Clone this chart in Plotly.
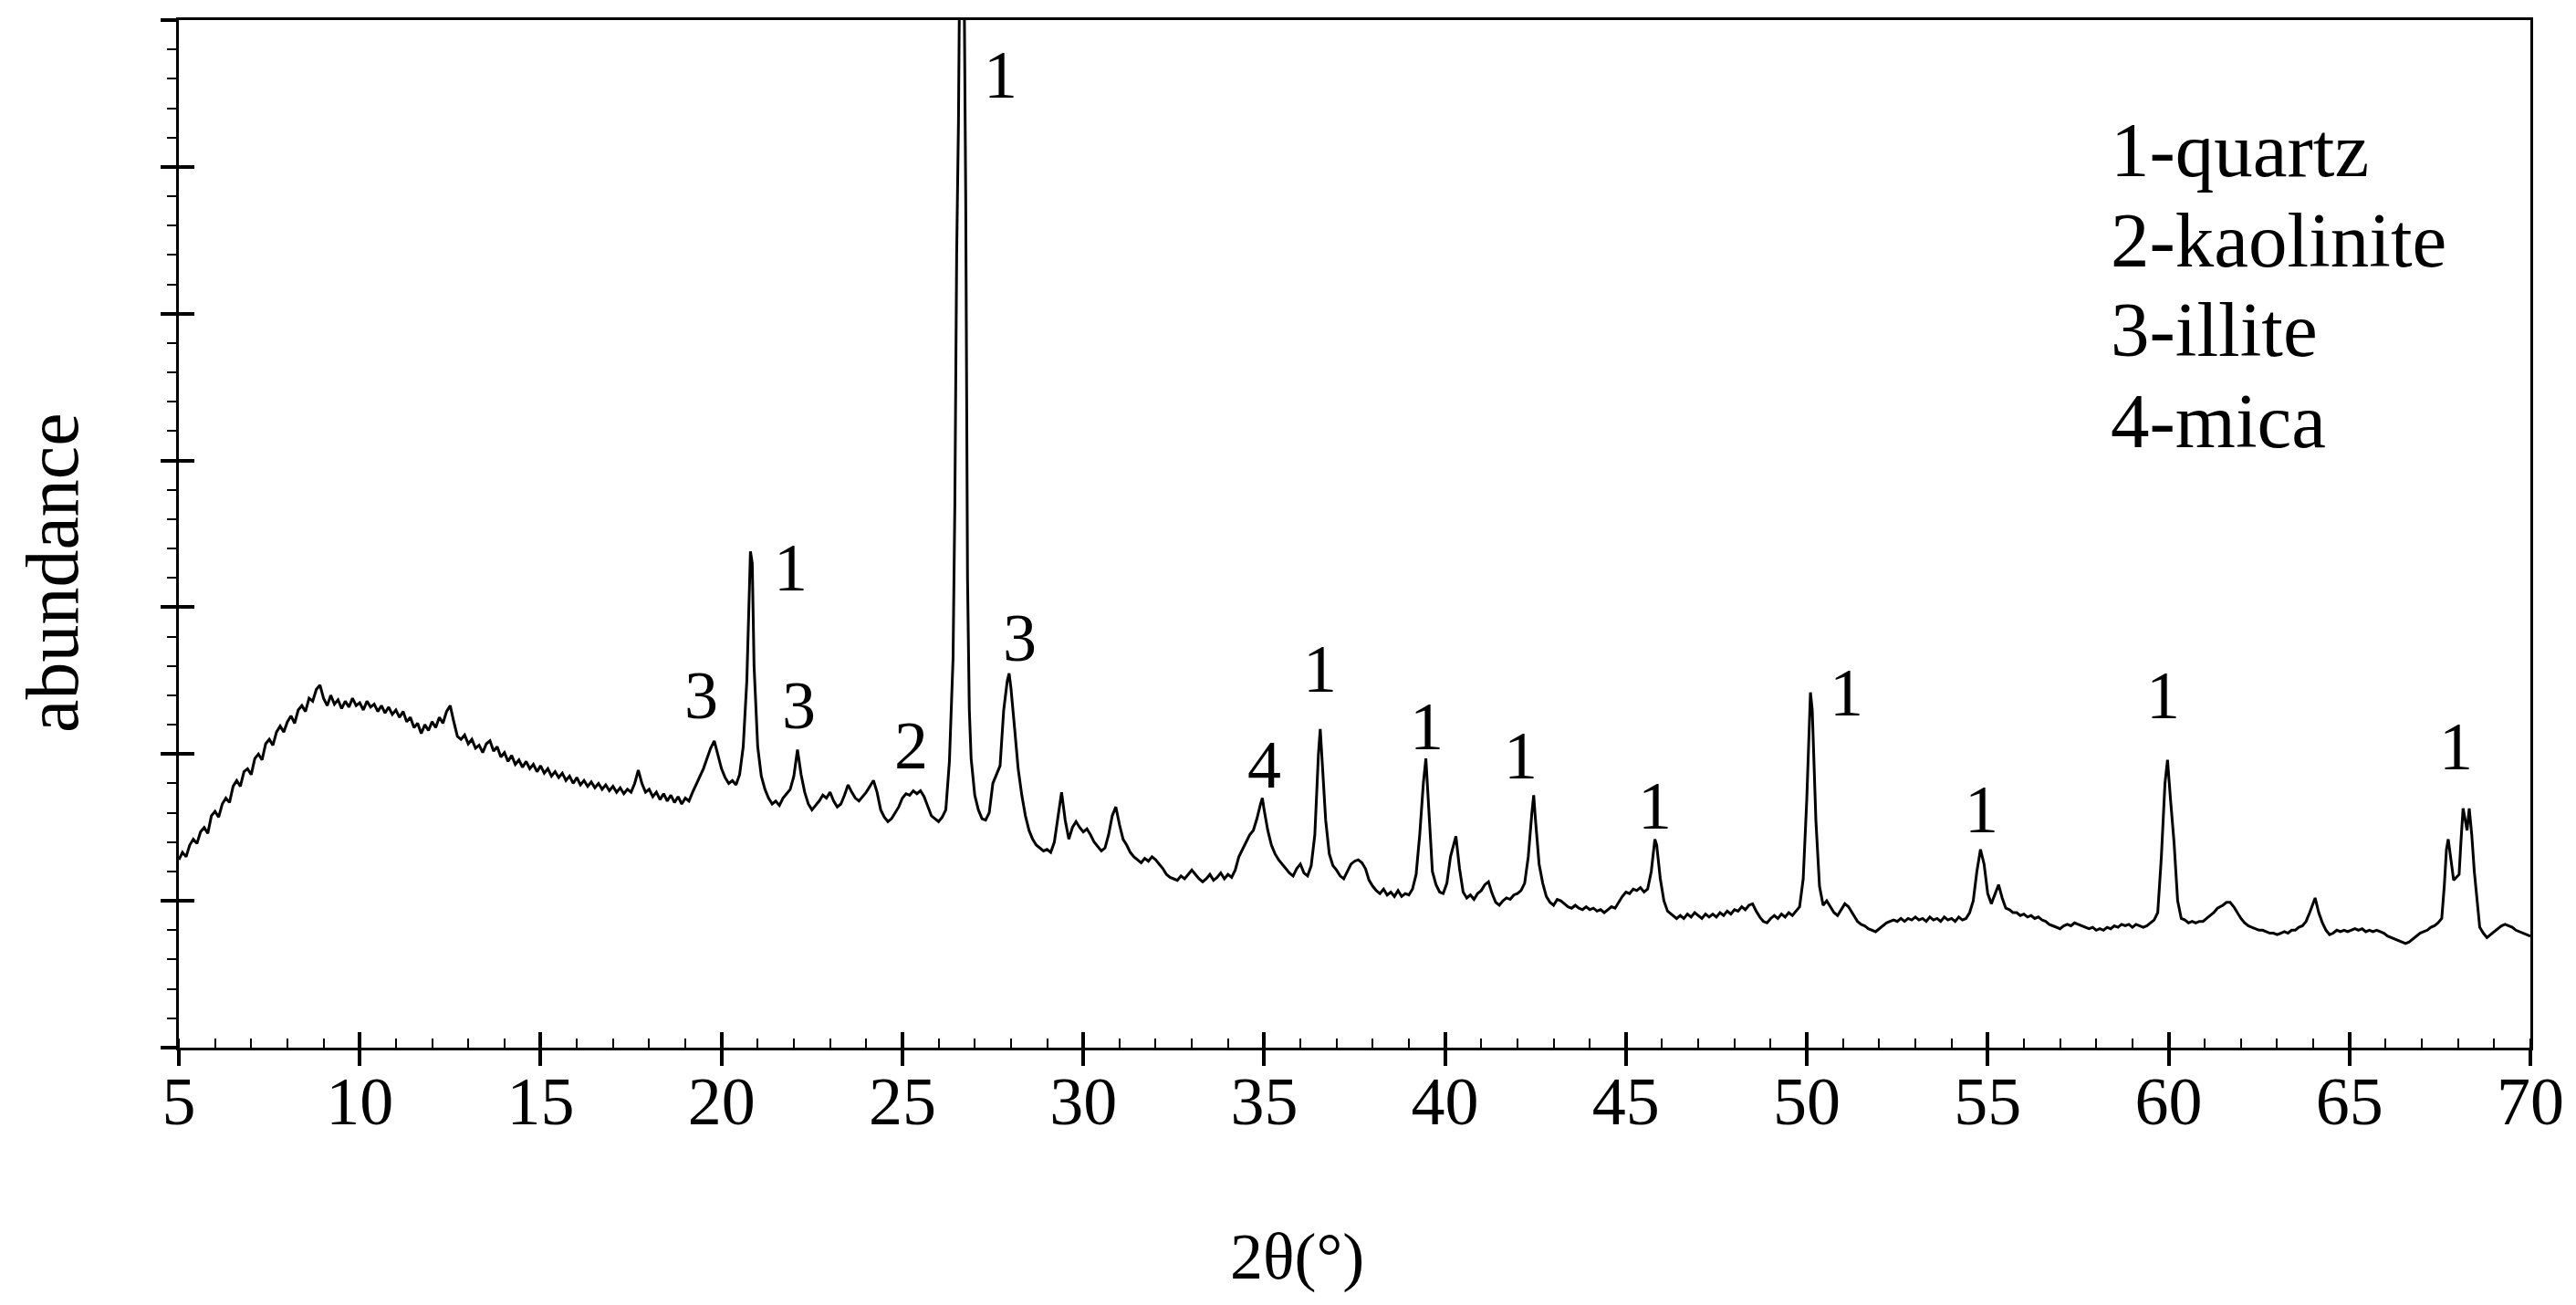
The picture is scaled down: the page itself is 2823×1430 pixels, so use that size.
from plotly import graph_objects as go

# XRD pattern (2theta in degrees, intensity in arbitrary units)
two_theta = [
    5.0, 5.1, 5.2, 5.3, 5.4, 5.5, 5.6, 5.7, 5.8, 5.9,
    6.0, 6.1, 6.2, 6.3, 6.4, 6.5, 6.6, 6.7, 6.8, 6.9,
    7.0, 7.1, 7.2, 7.3, 7.4, 7.5, 7.6, 7.7, 7.8, 7.9,
    8.0, 8.1, 8.2, 8.3, 8.4, 8.5, 8.6, 8.7, 8.8, 8.9,
    9.0, 9.1, 9.2, 9.3, 9.4, 9.5, 9.6, 9.7, 9.8, 9.9,
    10.0, 10.1, 10.2, 10.3, 10.4, 10.5, 10.6, 10.7, 10.8, 10.9,
    11.0, 11.1, 11.2, 11.3, 11.4, 11.5, 11.6, 11.7, 11.8, 11.9,
    12.0, 12.1, 12.2, 12.3, 12.4, 12.5, 12.6, 12.7, 12.8, 12.9,
    13.0, 13.1, 13.2, 13.3, 13.4, 13.5, 13.6, 13.7, 13.8, 13.9,
    14.0, 14.1, 14.2, 14.3, 14.4, 14.5, 14.6, 14.7, 14.8, 14.9,
    15.0, 15.1, 15.2, 15.3, 15.4, 15.5, 15.6, 15.7, 15.8, 15.9,
    16.0, 16.1, 16.2, 16.3, 16.4, 16.5, 16.6, 16.7, 16.8, 16.9,
    17.0, 17.1, 17.2, 17.3, 17.4, 17.5, 17.6, 17.7, 17.8, 17.9,
    18.0, 18.1, 18.2, 18.3, 18.4, 18.5, 18.6, 18.7, 18.8, 18.9,
    19.0, 19.1, 19.2, 19.3, 19.4, 19.5, 19.6, 19.7, 19.8, 19.9,
    20.0, 20.1, 20.2, 20.3, 20.4, 20.5, 20.6, 20.7, 20.8, 20.85, 20.9,
    21.0, 21.1, 21.2, 21.3, 21.4, 21.5, 21.6, 21.7, 21.8, 21.9,
    22.0, 22.1, 22.2, 22.3, 22.4, 22.5, 22.6, 22.7, 22.8, 22.9,
    23.0, 23.1, 23.2, 23.3, 23.4, 23.5, 23.6, 23.7, 23.8, 23.9,
    24.0, 24.1, 24.2, 24.3, 24.4, 24.5, 24.6, 24.7, 24.8, 24.9,
    25.0, 25.1, 25.2, 25.3, 25.4, 25.5, 25.6, 25.7, 25.8, 25.9,
    26.0, 26.1, 26.2, 26.3, 26.4, 26.45, 26.5, 26.55, 26.6, 26.65, 26.7, 26.75, 26.8, 26.85, 26.9,
    27.0, 27.1, 27.2, 27.3, 27.4, 27.5, 27.6, 27.7, 27.8, 27.9, 27.95,
    28.0, 28.1, 28.2, 28.3, 28.4, 28.5, 28.6, 28.7, 28.8, 28.9,
    29.0, 29.1, 29.2, 29.3, 29.4, 29.5, 29.6, 29.7, 29.8, 29.9,
    30.0, 30.1, 30.2, 30.3, 30.4, 30.5, 30.6, 30.7, 30.8, 30.9,
    31.0, 31.1, 31.2, 31.3, 31.4, 31.5, 31.6, 31.7, 31.8, 31.9,
    32.0, 32.1, 32.2, 32.3, 32.4, 32.5, 32.6, 32.7, 32.8, 32.9,
    33.0, 33.1, 33.2, 33.3, 33.4, 33.5, 33.6, 33.7, 33.8, 33.9,
    34.0, 34.1, 34.2, 34.3, 34.4, 34.5, 34.6, 34.7, 34.8, 34.9, 34.95,
    35.0, 35.1, 35.2, 35.3, 35.4, 35.5, 35.6, 35.7, 35.8, 35.9,
    36.0, 36.1, 36.2, 36.3, 36.4, 36.5, 36.55, 36.6, 36.7, 36.8, 36.9,
    37.0, 37.1, 37.2, 37.3, 37.4, 37.5, 37.6, 37.7, 37.8, 37.9,
    38.0, 38.1, 38.2, 38.3, 38.4, 38.5, 38.6, 38.7, 38.8, 38.9,
    39.0, 39.1, 39.2, 39.3, 39.4, 39.47, 39.55, 39.65, 39.75, 39.85, 39.95,
    40.05, 40.15, 40.3, 40.4, 40.5, 40.6, 40.7, 40.8, 40.9,
    41.0, 41.1, 41.2, 41.3, 41.4, 41.5, 41.6, 41.7, 41.8, 41.9,
    42.0, 42.1, 42.2, 42.3, 42.4, 42.45, 42.5, 42.6, 42.7, 42.8, 42.9,
    43.0, 43.1, 43.2, 43.3, 43.4, 43.5, 43.6, 43.7, 43.8, 43.9,
    44.0, 44.1, 44.2, 44.3, 44.4, 44.5, 44.6, 44.7, 44.8, 44.9,
    45.0, 45.1, 45.2, 45.3, 45.4, 45.5, 45.6, 45.7, 45.8, 45.85, 45.95,
    46.05, 46.15, 46.3, 46.4, 46.5, 46.6, 46.7, 46.8, 46.9,
    47.0, 47.1, 47.2, 47.3, 47.4, 47.5, 47.6, 47.7, 47.8, 47.9,
    48.0, 48.1, 48.2, 48.3, 48.4, 48.5, 48.6, 48.7, 48.8, 48.9,
    49.0, 49.1, 49.2, 49.3, 49.4, 49.5, 49.6, 49.7, 49.8, 49.9,
    50.0, 50.1, 50.15, 50.25, 50.35, 50.45, 50.55, 50.65, 50.75, 50.85, 50.95,
    51.05, 51.15, 51.3, 51.4, 51.5, 51.6, 51.7, 51.8, 51.9,
    52.0, 52.1, 52.2, 52.3, 52.4, 52.5, 52.6, 52.7, 52.8, 52.9,
    53.0, 53.1, 53.2, 53.3, 53.4, 53.5, 53.6, 53.7, 53.8, 53.9,
    54.0, 54.1, 54.2, 54.3, 54.4, 54.5, 54.6, 54.7, 54.8, 54.9,
    55.0, 55.1, 55.2, 55.3, 55.4, 55.5, 55.6, 55.7, 55.8, 55.9,
    56.0, 56.1, 56.2, 56.3, 56.4, 56.5, 56.6, 56.7, 56.8, 56.9,
    57.0, 57.1, 57.2, 57.3, 57.4, 57.5, 57.6, 57.7, 57.8, 57.9,
    58.0, 58.1, 58.2, 58.3, 58.4, 58.5, 58.6, 58.7, 58.8, 58.9,
    59.0, 59.1, 59.2, 59.3, 59.4, 59.5, 59.6, 59.7, 59.8, 59.9, 59.97,
    60.05, 60.15, 60.25, 60.35, 60.45, 60.55, 60.65, 60.75, 60.85, 60.95,
    61.05, 61.15, 61.25, 61.35, 61.5, 61.6, 61.7, 61.8, 61.9,
    62.0, 62.1, 62.2, 62.3, 62.4, 62.5, 62.6, 62.7, 62.8, 62.9,
    63.0, 63.1, 63.2, 63.3, 63.4, 63.5, 63.6, 63.7, 63.8, 63.9,
    64.0, 64.05, 64.15, 64.25, 64.35, 64.45, 64.55, 64.65, 64.75, 64.85, 64.95,
    65.05, 65.15, 65.25, 65.35, 65.45, 65.55, 65.65, 65.75, 65.85, 65.95,
    66.05, 66.15, 66.25, 66.35, 66.45, 66.55, 66.65, 66.75, 66.85, 66.95,
    67.05, 67.15, 67.25, 67.35, 67.45, 67.55, 67.62, 67.68, 67.73, 67.8, 67.88, 67.95,
    68.03, 68.08, 68.14, 68.2, 68.25, 68.31, 68.38, 68.45, 68.52, 68.6, 68.7, 68.8, 68.9,
    69.0, 69.1, 69.2, 69.3, 69.4, 69.5, 69.6, 69.7, 69.8, 69.9, 70.0,
]

intensity = [
    1.28, 1.33, 1.30, 1.38, 1.42, 1.39, 1.47, 1.50, 1.46, 1.58,
    1.61, 1.57, 1.66, 1.70, 1.67, 1.78, 1.82, 1.78, 1.88, 1.90,
    1.86, 1.97, 2.00, 1.96, 2.07, 2.10, 2.06, 2.15, 2.19, 2.15,
    2.22, 2.26, 2.21, 2.30, 2.33, 2.29, 2.38, 2.36, 2.44, 2.47,
    2.38, 2.33, 2.40, 2.34, 2.37, 2.31, 2.36, 2.32, 2.38, 2.33,
    2.35, 2.30, 2.36, 2.32, 2.34, 2.29, 2.33, 2.28, 2.32, 2.27,
    2.30, 2.25, 2.29, 2.22, 2.25, 2.18, 2.21, 2.14, 2.20, 2.16,
    2.22, 2.18, 2.25, 2.21, 2.29, 2.33, 2.22, 2.12, 2.10, 2.13,
    2.07, 2.10, 2.04, 2.06, 2.01, 2.07, 2.09, 2.02, 2.05, 1.98,
    2.01, 1.95, 1.99, 1.93, 1.96, 1.91, 1.95, 1.90, 1.93, 1.88,
    1.92, 1.87, 1.90, 1.85, 1.88, 1.84, 1.87, 1.82, 1.85, 1.80,
    1.84, 1.79, 1.82, 1.78, 1.81, 1.77, 1.80, 1.76, 1.79, 1.75,
    1.78, 1.74, 1.77, 1.73, 1.76, 1.74, 1.80, 1.89, 1.80, 1.74,
    1.76, 1.71, 1.74, 1.69, 1.73, 1.68, 1.72, 1.67, 1.71, 1.66,
    1.70, 1.68, 1.74, 1.79, 1.84, 1.90, 1.97, 2.04, 2.09, 2.00,
    1.90, 1.84, 1.80, 1.82, 1.79, 1.86, 2.05, 2.50, 3.38, 3.30, 2.60,
    2.05, 1.85, 1.76, 1.70, 1.66, 1.68, 1.65, 1.70, 1.73, 1.76,
    1.85, 2.03, 1.86, 1.74, 1.66, 1.62, 1.65, 1.68, 1.72, 1.70,
    1.74, 1.68, 1.64, 1.66, 1.72, 1.79, 1.74, 1.70, 1.68, 1.71,
    1.74, 1.78, 1.82, 1.74, 1.62, 1.57, 1.54, 1.56, 1.60, 1.64,
    1.70, 1.73, 1.72, 1.75, 1.73, 1.75, 1.71, 1.64, 1.58, 1.56,
    1.54, 1.57, 1.62, 1.95, 2.65, 3.70, 5.40, 6.30, 9.50, 9.50, 7.50, 5.80, 3.20, 2.30, 1.97,
    1.72, 1.62, 1.56, 1.55, 1.60, 1.80, 1.86, 1.92, 2.30, 2.50, 2.55,
    2.45, 2.18, 1.90, 1.72, 1.58, 1.48, 1.42, 1.38, 1.36, 1.34,
    1.35, 1.33, 1.40, 1.58, 1.74, 1.55, 1.42, 1.50, 1.54, 1.50,
    1.47, 1.49, 1.45, 1.40, 1.37, 1.34, 1.36, 1.45, 1.58, 1.64,
    1.52, 1.42, 1.38, 1.33, 1.30, 1.28, 1.26, 1.29, 1.27, 1.30,
    1.28, 1.25, 1.22, 1.18, 1.16, 1.15, 1.14, 1.17, 1.15, 1.18,
    1.21, 1.18, 1.15, 1.13, 1.15, 1.18, 1.14, 1.16, 1.19, 1.15,
    1.18, 1.16, 1.21, 1.30, 1.35, 1.41, 1.45, 1.48, 1.56, 1.66, 1.70,
    1.62, 1.48, 1.38, 1.32, 1.28, 1.25, 1.22, 1.19, 1.17, 1.22,
    1.25, 1.19, 1.17, 1.24, 1.45, 2.00, 2.17, 1.95, 1.55, 1.32, 1.24,
    1.21, 1.17, 1.15, 1.20, 1.25, 1.27, 1.28, 1.26, 1.22, 1.14,
    1.10, 1.07, 1.05, 1.08, 1.04, 1.06, 1.03, 1.07, 1.03, 1.05,
    1.04, 1.08, 1.18, 1.45, 1.80, 1.97, 1.60, 1.20, 1.11, 1.06, 1.05,
    1.12, 1.30, 1.44, 1.22, 1.06, 1.02, 1.04, 1.01, 1.05,
    1.07, 1.11, 1.13, 1.05, 0.99, 0.97, 1.00, 1.02, 1.01, 1.04,
    1.05, 1.07, 1.12, 1.30, 1.60, 1.72, 1.55, 1.25, 1.12, 1.03, 0.99,
    0.97, 1.01, 1.00, 0.98, 0.96, 0.95, 0.97, 0.95, 0.94, 0.96,
    0.94, 0.95, 0.93, 0.94, 0.92, 0.94, 0.96, 0.95, 0.99, 1.03,
    1.06, 1.05, 1.08, 1.07, 1.09, 1.06, 1.08, 1.20, 1.42, 1.38, 1.15,
    1.00, 0.93, 0.90, 0.88, 0.90, 0.88, 0.91, 0.89, 0.92,
    0.90, 0.88, 0.91, 0.89, 0.91, 0.89, 0.92, 0.90, 0.93, 0.91,
    0.94, 0.93, 0.96, 0.94, 0.97, 0.98, 0.93, 0.89, 0.86, 0.85,
    0.88, 0.90, 0.88, 0.91, 0.89, 0.92, 0.90, 0.93, 0.96, 1.15,
    1.70, 2.42, 2.30, 1.55, 1.10, 0.97, 1.00, 0.96, 0.92, 0.90, 0.94,
    0.98, 0.96, 0.90, 0.86, 0.84, 0.83, 0.81, 0.80, 0.79,
    0.81, 0.83, 0.85, 0.86, 0.87, 0.86, 0.88, 0.86, 0.88, 0.87,
    0.89, 0.87, 0.88, 0.86, 0.89, 0.87, 0.88, 0.86, 0.89, 0.87,
    0.88, 0.86, 0.89, 0.87, 0.88, 0.92, 1.00, 1.20, 1.35, 1.25,
    1.05, 0.98, 1.05, 1.11, 1.02, 0.95, 0.94, 0.92, 0.92, 0.90,
    0.91, 0.89, 0.90, 0.88, 0.89, 0.87, 0.86, 0.84, 0.83, 0.82,
    0.81, 0.83, 0.84, 0.83, 0.85, 0.84, 0.83, 0.82, 0.81, 0.82,
    0.80, 0.81, 0.80, 0.82, 0.81, 0.83, 0.82, 0.84, 0.83, 0.84,
    0.82, 0.84, 0.83, 0.82, 0.83, 0.85, 0.87, 0.92, 1.30, 1.80, 1.96,
    1.70, 1.40, 1.00, 0.88, 0.87, 0.85, 0.86, 0.85, 0.86, 0.86,
    0.88, 0.90, 0.92, 0.95, 0.97, 0.99, 0.99, 0.96, 0.92,
    0.88, 0.85, 0.83, 0.82, 0.81, 0.80, 0.80, 0.79, 0.78, 0.78,
    0.77, 0.78, 0.79, 0.78, 0.80, 0.80, 0.82, 0.83, 0.86, 0.92,
    0.98, 1.02, 0.92, 0.85, 0.80, 0.77, 0.78, 0.80, 0.79, 0.80, 0.79,
    0.80, 0.81, 0.80, 0.81, 0.79, 0.80, 0.79, 0.80, 0.79, 0.78,
    0.76, 0.75, 0.74, 0.73, 0.72, 0.71, 0.72, 0.74, 0.76, 0.78,
    0.79, 0.80, 0.82, 0.83, 0.85, 0.88, 1.10, 1.35, 1.42, 1.30, 1.14, 1.16,
    1.18, 1.40, 1.63, 1.55, 1.48, 1.63, 1.45, 1.20, 1.00, 0.82, 0.78, 0.75, 0.77,
    0.79, 0.81, 0.83, 0.84, 0.83, 0.82, 0.80, 0.79, 0.78, 0.77, 0.76,
]

# phase labels placed above the peaks
peak_label_x = [19.45, 21.9, 22.15, 25.23, 27.72, 28.25, 35.01, 36.53,
                39.5, 42.1, 45.8, 51.1, 54.82, 59.86, 67.95]
peak_label_y = [2.40, 3.27, 2.33, 2.06, 6.63, 2.79, 1.93, 2.58,
                2.19, 1.99, 1.65, 2.42, 1.62, 2.40, 2.05]
peak_label_text = ['3', '1', '3', '2', '1', '3', '4', '1',
                   '1', '1', '1', '1', '1', '1', '1']

legend_lines = ['1-quartz', '2-kaolinite', '3-illite', '4-mica']
legend_y = [6.12, 5.50, 4.89, 4.27]

FONT = 'Liberation Serif'

fig = go.Figure()

fig.add_trace(go.Scatter(x=two_theta,
                         y=intensity,
                         mode='lines',
                         line=dict(color='black', width=3),
                         showlegend=False,
                         hoverinfo='skip'))

# dummy traces so the overlay axes (inward major ticks) get drawn
fig.add_trace(go.Scatter(x=[5], y=[0], xaxis='x2', yaxis='y',
                         mode='markers', marker=dict(size=1, opacity=0),
                         showlegend=False, hoverinfo='skip'))
fig.add_trace(go.Scatter(x=[5], y=[0], xaxis='x', yaxis='y2',
                         mode='markers', marker=dict(size=1, opacity=0),
                         showlegend=False, hoverinfo='skip'))

for px, py, t in zip(peak_label_x, peak_label_y, peak_label_text):
    fig.add_annotation(x=px, y=py, text=t, showarrow=False,
                       font=dict(family=FONT, size=74, color='black'))

for t, ly in zip(legend_lines, legend_y):
    fig.add_annotation(x=58.35, y=ly, text=t, showarrow=False,
                       xanchor='left', yanchor='middle',
                       font=dict(family=FONT, size=85, color='black'))

fig.add_annotation(xref='paper', yref='paper', x=-0.0535, y=0.462,
                   xanchor='center', yanchor='middle', borderpad=0,
                   text='abundance', textangle=-90, showarrow=False,
                   font=dict(family=FONT, size=82, color='black'))
fig.add_annotation(xref='paper', yref='paper', x=0.4754, y=-0.2037,
                   xanchor='center', yanchor='middle',
                   text='2θ(°)', showarrow=False,
                   font=dict(family=FONT, size=72, color='black'))

# the page body has an 8px margin, so margins are shifted to keep the plot area in place
fig.update_layout(width=2823, height=1430,
                  margin=dict(l=188, r=58, t=11, b=290),
                  paper_bgcolor='white',
                  plot_bgcolor='white',
                  showlegend=False,
                  font=dict(family=FONT, color='black'),
                  xaxis=dict(range=[5, 70], tick0=5, dtick=5,
                             showgrid=False, zeroline=False,
                             showline=True, linecolor='black', linewidth=3,
                             mirror=True,
                             ticks='outside', ticklen=17, tickwidth=4,
                             tickcolor='black', ticklabelstandoff=-25,
                             tickfont=dict(family=FONT, size=74, color='black'),
                             minor=dict(ticks='inside', ticklen=10, tickwidth=2,
                                        dtick=1, tickcolor='black', showgrid=False)),
                  xaxis2=dict(overlaying='x', matches='x', anchor='y', side='bottom',
                              tick0=5, dtick=5, showgrid=False, zeroline=False,
                              showline=False, showticklabels=False,
                              ticks='inside', ticklen=17, tickwidth=4,
                              tickcolor='black'),
                  yaxis=dict(range=[0, 7], tick0=0, dtick=1,
                             showgrid=False, zeroline=False,
                             showline=True, linecolor='black', linewidth=3,
                             mirror=True, showticklabels=False,
                             ticks='outside', ticklen=17, tickwidth=4,
                             tickcolor='black',
                             minor=dict(ticks='outside', ticklen=10, tickwidth=2,
                                        dtick=0.2, tickcolor='black', showgrid=False)),
                  yaxis2=dict(overlaying='y', matches='y', anchor='x', side='left',
                              tick0=0, dtick=1, showgrid=False, zeroline=False,
                              showline=False, showticklabels=False,
                              ticks='inside', ticklen=17, tickwidth=4,
                              tickcolor='black'))

fig.write_html("out.html")
